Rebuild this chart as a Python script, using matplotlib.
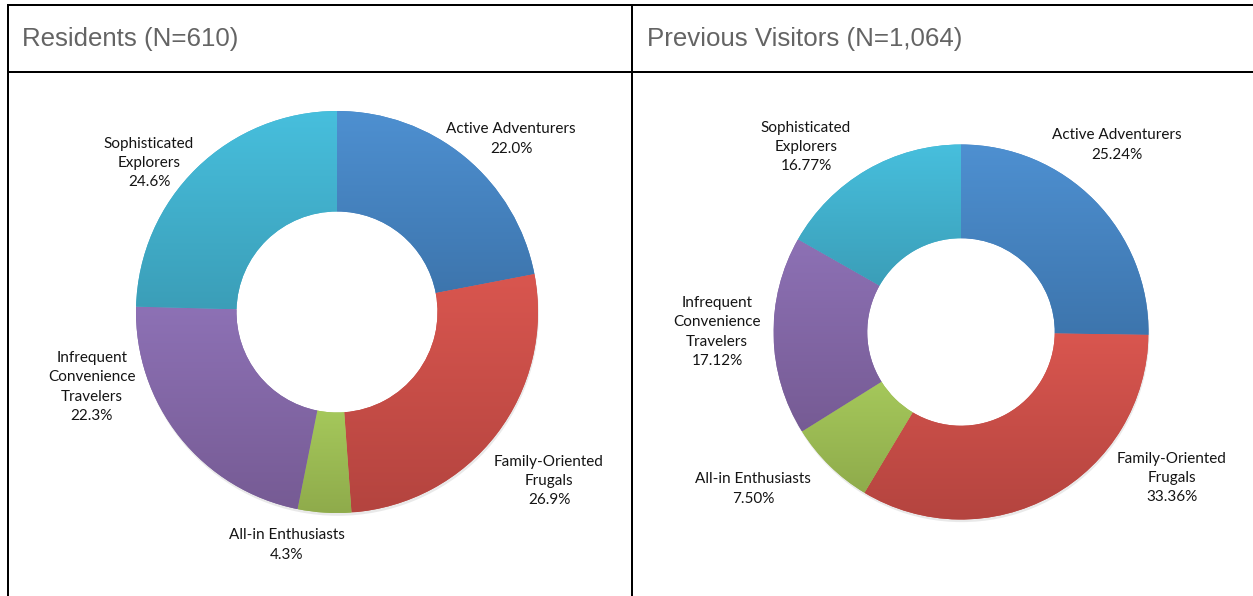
import numpy as np
import matplotlib
matplotlib.use("Agg")
import matplotlib.pyplot as plt
from matplotlib.colors import to_rgb

# ---------------- data ----------------
categories = ["Active Adventurers", "Family-Oriented Frugals", "All-in Enthusiasts",
              "Infrequent Convenience Travelers", "Sophisticated Explorers"]
label_text = ["Active Adventurers", "Family-Oriented\nFrugals", "All-in Enthusiasts",
              "Infrequent\nConvenience\nTravelers", "Sophisticated\nExplorers"]
residents = [22.0, 26.9, 4.3, 22.3, 24.6]
residents_labels = ["22.0%", "26.9%", "4.3%", "22.3%", "24.6%"]
visitors = [25.24, 33.36, 7.50, 17.12, 16.77]
visitors_labels = ["25.24%", "33.36%", "7.50%", "17.12%", "16.77%"]
titles = ["Residents (N=610)", "Previous Visitors (N=1,064)"]

# ---------------- style ----------------
top_colors = ["#4e90d1", "#d9564f", "#a5c85b", "#8d71b5", "#47bfdd"]
bot_colors = ["#3d75ad", "#b4443f", "#8fab4b", "#765b94", "#3b9eb8"]
mid_colors = ["#4682c0", "#c74c47", "#9bb953", "#8066a4", "#41aecb"]

W, H = 1253, 596
DPI = 100
fig = plt.figure(figsize=(W / DPI, H / DPI), dpi=DPI)
fig.patch.set_facecolor("white")

# background / table axes in pixel coordinates
bg = fig.add_axes([0, 0, 1, 1])
bg.set_xlim(0, W)
bg.set_ylim(H, 0)
bg.axis("off")
lw = 2.0 * 72 / DPI
bg.plot([8, W], [5, 5], color="black", lw=lw, solid_capstyle="butt")
bg.plot([8, W], [72, 72], color="black", lw=lw, solid_capstyle="butt")
bg.plot([8, 8], [4, H], color="black", lw=lw, solid_capstyle="butt")
bg.plot([632, 632], [4, H], color="black", lw=lw, solid_capstyle="butt")

header_x = [22, 647]
for hx, t in zip(header_x, titles):
    bg.text(hx, 39, t, fontsize=18.6, color="#646464", ha="left", va="center",
            family=["Liberation Sans", "DejaVu Sans"])

# label anchor offsets, in units of the outer radius (layout only)
res_label_pos = [(0.866, 0.861), (1.055, -0.841), (-0.249, -1.159),
                 (-1.219, -0.373), (-0.935, 0.741)]
vis_label_pos = [(0.832, 0.997), (1.125, -0.779), (-1.109, -0.837),
                 (-1.301, 0.0), (-0.827, 0.987)]

charts = [
    dict(values=residents, pct=residents_labels, cx=337, cy=312, r=201, lpos=res_label_pos),
    dict(values=visitors, pct=visitors_labels, cx=961, cy=332, r=187.5, lpos=vis_label_pos),
]

SPAN = 1.7  # axes half-width in radius units
for ch in charts:
    cx, cy, r = ch["cx"], ch["cy"], ch["r"]
    half = SPAN * r
    ax = fig.add_axes([(cx - half) / W, 1 - (cy + half) / H, 2 * half / W, 2 * half / H])
    ax.set_xlim(-SPAN, SPAN)
    ax.set_ylim(-SPAN, SPAN)
    ax.axis("off")
    ax.patch.set_alpha(0)

    # faint drop shadow (outer edge only)
    shadow, _ = ax.pie([1], radius=1.0, colors=["#d8d8d8"], center=(0.004, -0.014),
                       wedgeprops=dict(width=0.4, linewidth=0))
    for s in shadow:
        s.set_alpha(0.55)

    wedges, _ = ax.pie(ch["values"], radius=1.0, startangle=90, counterclock=False,
                       colors=mid_colors, wedgeprops=dict(width=0.5, linewidth=0))
    for i, w in enumerate(wedges):
        ext = w.get_path().get_extents()
        c0 = np.array(to_rgb(top_colors[i]))
        c1 = np.array(to_rgb(bot_colors[i]))
        t = np.linspace(0, 1, 256)[:, None]
        grad = (c0[None, :] * (1 - t) + c1[None, :] * t)[:, None, :]
        im = ax.imshow(grad, extent=(ext.x0, ext.x1, ext.y0, ext.y1), origin="upper",
                       aspect="auto", interpolation="bilinear", zorder=w.get_zorder() + 0.1)
        im.set_clip_path(w)
    ax.set_xlim(-SPAN, SPAN)
    ax.set_ylim(-SPAN, SPAN)

    for i, (lx, ly) in enumerate(ch["lpos"]):
        ax.text(lx, ly, label_text[i] + "\n" + ch["pct"][i], ha="center", va="center",
                fontsize=11.0, color="#141414", linespacing=1.48,
                family=["Lato", "DejaVu Sans"], zorder=10)

fig.savefig("out.png", dpi=DPI, facecolor="white")
